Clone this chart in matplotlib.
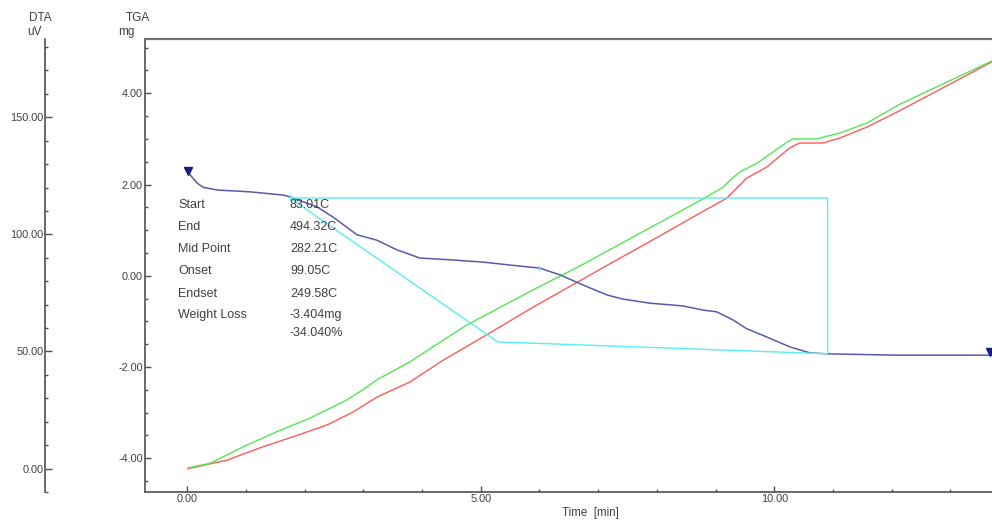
import matplotlib
matplotlib.use("Agg")
import matplotlib.pyplot as plt
from matplotlib.ticker import MultipleLocator, FormatStrFormatter

plt.rcParams['font.family'] = ['Liberation Sans', 'DejaVu Sans']

# ---- data (time in min, TGA in mg) ----
tga_t = [0.01, 0.05, 0.17, 0.27, 0.51, 1.07, 1.63, 1.75, 2.21, 2.48, 2.89, 3.23, 3.57,
         3.96, 4.48, 5.04, 5.61, 6.00, 6.35, 6.74, 7.15, 7.42, 7.88, 8.44, 8.78, 9.02,
         9.30, 9.53, 9.87, 10.27, 10.61, 10.90, 12.09, 13.67]
tga_mg = [2.30, 2.21, 2.03, 1.94, 1.88, 1.84, 1.77, 1.73, 1.51, 1.29, 0.90, 0.78, 0.57,
          0.39, 0.35, 0.30, 0.22, 0.17, 0.02, -0.20, -0.42, -0.51, -0.60, -0.66, -0.75, -0.79,
          -0.97, -1.16, -1.34, -1.56, -1.69, -1.71, -1.74, -1.74]

red_t = [0.01, 0.68, 1.24, 1.80, 2.38, 2.82, 3.23, 3.79, 4.36, 5.04, 5.89, 7.03, 7.88,
         8.73, 9.19, 9.36, 9.53, 9.87, 10.26, 10.43, 10.83, 11.12, 11.58, 12.14, 13.71]
red_v = [-4.23, -4.04, -3.77, -3.53, -3.27, -2.99, -2.66, -2.33, -1.85, -1.34, -0.69, 0.14, 0.75,
         1.37, 1.70, 1.92, 2.14, 2.38, 2.80, 2.91, 2.91, 3.02, 3.26, 3.62, 4.69]

green_t = [0.01, 0.39, 0.95, 1.52, 2.09, 2.72, 2.99, 3.23, 3.79, 4.36, 4.76, 5.89, 6.74,
           7.88, 8.85, 9.13, 9.25, 9.42, 9.71, 10.22, 10.32, 10.72, 11.12, 11.58, 12.14, 13.71]
green_v = [-4.21, -4.11, -3.75, -3.42, -3.12, -2.72, -2.50, -2.28, -1.89, -1.41, -1.08, -0.31, 0.25,
           1.05, 1.73, 1.94, 2.10, 2.28, 2.47, 2.93, 3.00, 3.00, 3.13, 3.35, 3.76, 4.71]

ann_t = [1.75, 5.29, 10.91, 10.91, 1.75]
ann_mg = [1.705, -1.45, -1.71, 1.705, 1.705]
ann_marks_t = [1.75, 6.00]
ann_marks_mg = [1.72, 0.17]

marker_t = [0.01, 13.67]
marker_mg = [2.30, -1.68]

labels = ["Start", "End", "Mid Point", "Onset", "Endset", "Weight Loss", ""]
values = ["83.01C", "494.32C", "282.21C", "99.05C", "249.58C", "-3.404mg", "-34.040%"]
row_y = [205, 227, 249, 271, 294, 315, 333]

# ---- figure ----
W, H = 992, 521
fig = plt.figure(figsize=(W / 100, H / 100), dpi=100)
L, R, T, B = 145, 992, 39, 492
ax = fig.add_axes([L / W, 1 - B / H, (R - L) / W, (B - T) / H])

axis_col = '#505050'
txt_col = '#404040'

ax.set_xlim(-0.72, 13.71)
ax.set_ylim(-4.739, 5.19)

ax.plot(red_t, red_v, color='#ff5a5a', lw=1.0, zorder=3)
ax.plot(green_t, green_v, color='#55e655', lw=1.0, zorder=3)
ax.plot(tga_t, tga_mg, color='#5a5aaa', lw=1.1, zorder=4)
ax.plot(ann_t, ann_mg, color='#55f0f0', lw=1.0, zorder=5)
ax.plot(ann_marks_t, ann_marks_mg, ls='none', marker='|', ms=5, mew=1.0,
        color='#55f0f0', zorder=6)
ax.plot(marker_t, marker_mg, ls='none', marker='v', ms=6, color='#1a1a80',
        zorder=7, clip_on=False)

for s in ['left', 'bottom']:
    ax.spines[s].set_color(axis_col)
    ax.spines[s].set_linewidth(1.2)
ax.spines['top'].set_color('#707070')
ax.spines['top'].set_linewidth(1.6)
ax.spines['right'].set_visible(False)

ax.xaxis.set_major_locator(MultipleLocator(5))
ax.xaxis.set_minor_locator(MultipleLocator(1))
ax.xaxis.set_major_formatter(FormatStrFormatter('%.2f'))
ax.yaxis.set_major_locator(MultipleLocator(2))
ax.yaxis.set_minor_locator(MultipleLocator(0.5))
ax.yaxis.set_major_formatter(FormatStrFormatter('%.2f'))
ax.tick_params(axis='both', which='major', direction='in', length=4, width=1.0,
               color=axis_col, labelsize=7.8, labelcolor=txt_col, pad=1.5)
ax.tick_params(axis='both', which='minor', direction='in', length=2, width=1.0,
               color=axis_col)
ax.tick_params(axis='x', top=False)
ax.tick_params(axis='y', right=False)

# DTA axis
ax2 = ax.twinx()
ax2.set_ylim(-10, 183.4)
for s in ['top', 'right', 'bottom']:
    ax2.spines[s].set_visible(False)
ax2.spines['left'].set_visible(True)
ax2.spines['left'].set_position(('axes', -(L - 45) / (R - L)))
ax2.spines['left'].set_color(axis_col)
ax2.spines['left'].set_linewidth(1.2)
ax2.yaxis.set_ticks_position('left')
ax2.yaxis.set_label_position('left')
ax2.yaxis.set_major_locator(MultipleLocator(50))
ax2.yaxis.set_minor_locator(MultipleLocator(10))
ax2.yaxis.set_major_formatter(FormatStrFormatter('%.2f'))
ax2.tick_params(axis='y', which='major', direction='in', length=5, width=1.0,
                color=axis_col, labelsize=7.8, labelcolor=txt_col, pad=1.0)
ax2.tick_params(axis='y', which='minor', direction='in', length=2, width=1.0,
                color=axis_col)

# axis titles
def ftext(x, y, s, **kw):
    fig.text(x / W, 1 - y / H, s, color=txt_col, **kw)

ftext(40, 18, "DTA", fontsize=8.5, ha='center', va='center')
ftext(35, 32, "uV", fontsize=8.5, ha='center', va='center')
ftext(138, 18, "TGA", fontsize=8.5, ha='center', va='center')
ftext(126, 32, "mg", fontsize=8.5, ha='center', va='center')
ftext(590, 513, "Time  [min]", fontsize=8.3, ha='center', va='center')

for lab, val, yy in zip(labels, values, row_y):
    if lab:
        ftext(178, yy, lab, fontsize=9, ha='left', va='center')
    ftext(290, yy, val, fontsize=9, ha='left', va='center')

fig.savefig("out.png", dpi=100)
